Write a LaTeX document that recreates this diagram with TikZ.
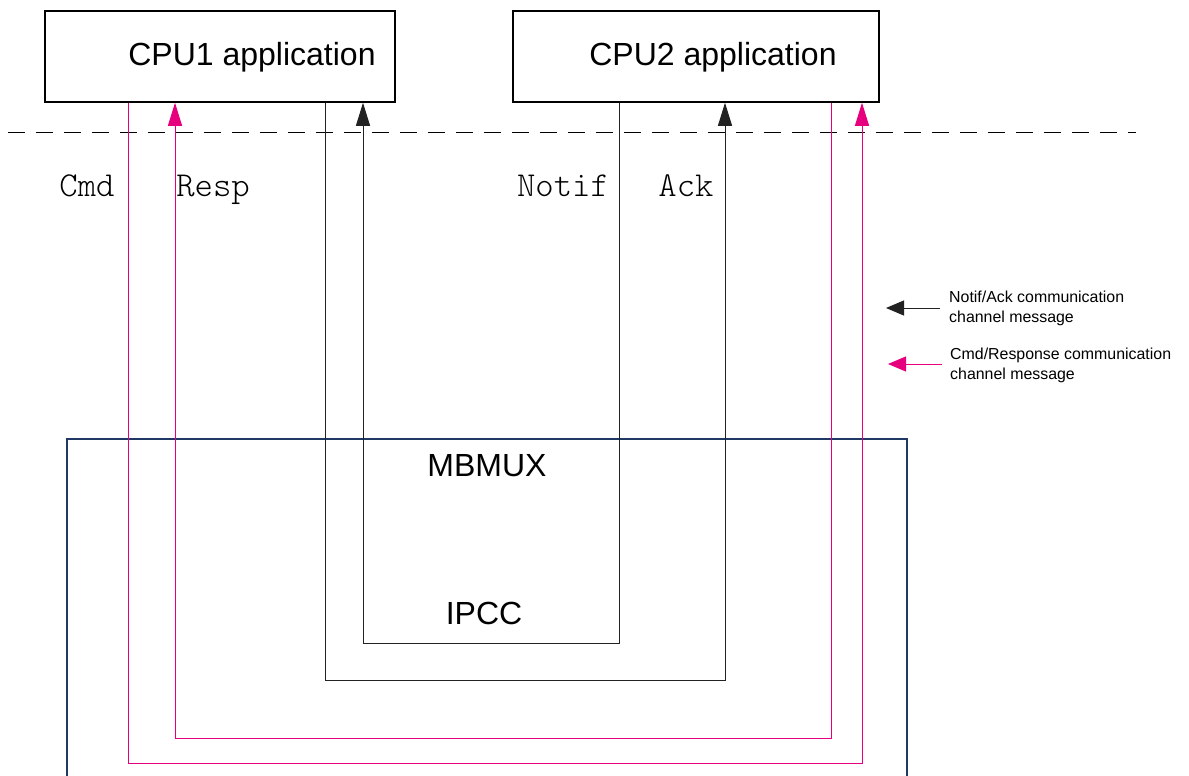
\documentclass[tikz,border=0pt]{standalone}
\usepackage{fontspec}
\setmainfont{Liberation Sans}
\newfontfamily\labelmono{lmmonolt10-regular.otf}
\usetikzlibrary{arrows.meta}
\definecolor{stpink}{HTML}{E6007E}
\definecolor{navy}{HTML}{1F3864}
\definecolor{dk}{HTML}{222222}
\tikzset{
  appbox/.style={draw=black, line width=1.5pt, minimum height=91pt, inner sep=0pt},
  apptxt/.style={font=\fontsize{32}{38}\selectfont, inner sep=0pt},
  blk/.style={draw=dk, line width=1pt},
  pk/.style={draw=stpink, line width=1pt},
  tipb/.style={-{Triangle[length=23pt,width=14pt]}},
  tipl/.style={-{Triangle[length=18pt,width=15pt]}},
  monolbl/.style={font=\labelmono\fontsize{35}{40}\selectfont, inner sep=0pt, anchor=base},
  bigtxt/.style={font=\fontsize{32}{38}\selectfont, inner sep=0pt},
  legtxt/.style={font=\fontsize{15.9}{20}\selectfont, inner sep=0pt, align=left, anchor=north west},
}
\begin{document}
\begin{tikzpicture}[x=1pt,y=-1pt]
\useasboundingbox (0,0) rectangle (1189,776);
% application boxes
\node[appbox, minimum width=350pt] (cpu1) at (220,56.5) {};
\node[appbox, minimum width=366pt] (cpu2) at (696,56.5) {};
\node[apptxt] (cpu1t) at (252,57) {CPU1 application};
\node[apptxt] (cpu2t) at (713,57) {CPU2 application};
% dashed separator
\coordinate (dl) at (8,132);
\coordinate (dr) at (1136,132);
\draw[line width=1pt, dash pattern=on 17pt off 11pt] (dl) -- (dr);
% MBMUX frame
\coordinate (mbl) at (67,776);
\coordinate (mbtl) at (67,439);
\coordinate (mbtr) at (907,439);
\coordinate (mbr) at (907,776);
\draw[draw=navy, line width=2pt] (mbl) -- (mbtl) -- (mbtr) -- (mbr);
\node[bigtxt] (mbmux) at (487,466) {MBMUX};
\node[bigtxt] (ipcc) at (484,613) {IPCC};
% channel corners
\coordinate (cmdA) at (128,763);
\coordinate (cmdB) at (862,763);
\coordinate (rspA) at (831,738);
\coordinate (rspB) at (175,738);
\coordinate (ackA) at (325,680);
\coordinate (ackB) at (725,680);
\coordinate (ntfA) at (619,643);
\coordinate (ntfB) at (363,643);
% Cmd : CPU1 -> CPU2
\draw[pk, tipb] (cpu1.south -| cmdA) -- (cmdA) -- (cmdB) -- (cpu2.south -| cmdB);
% Resp : CPU2 -> CPU1
\draw[pk, tipb] (cpu2.south -| rspA) -- (rspA) -- (rspB) -- (cpu1.south -| rspB);
% Notif/Ack black lines
\draw[blk, tipb] (cpu1.south -| ackA) -- (ackA) -- (ackB) -- (cpu2.south -| ackB);
\draw[blk, tipb] (cpu2.south -| ntfA) -- (ntfA) -- (ntfB) -- (cpu1.south -| ntfB);
% channel labels
\node[monolbl] (lcmd) at (87,196) {Cmd};
\node[monolbl] (lresp) at (213,196) {Resp};
\node[monolbl] (lnotif) at (563,196) {Notif};
\node[monolbl] (lack) at (686,196) {Ack};
% legend
\coordinate (lg1s) at (940,308);
\coordinate (lg1e) at (886,308);
\coordinate (lg2s) at (942,364);
\coordinate (lg2e) at (888,364);
\draw[blk, tipl] (lg1s) -- (lg1e);
\draw[pk, tipl] (lg2s) -- (lg2e);
\node[legtxt] (leg1) at (949,291) {Notif/Ack communication\\channel message};
\node[legtxt] (leg2) at (950,348) {Cmd/Response communication\\channel message};
\end{tikzpicture}
\end{document}
